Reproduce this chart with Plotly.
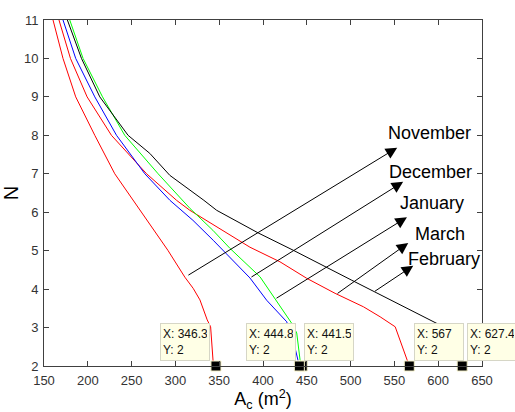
import plotly.graph_objects as go

# Collector area A_c (m^2) versus number of units N, one curve per month
nov_x = [160.3, 171.7, 186.2, 208.0, 230.8, 251.7, 291.4, 310.8, 320.3, 328.0, 336.3, 340.2, 343.2, 346.3]
nov_y = [11, 10, 9, 8, 7, 6.31, 5.01, 4.31, 4.02, 3.72, 3.20, 3.02, 2.07, 2]

dec_x = [171.7, 186.2, 208.0, 232.8, 265.1, 293.7, 320.0, 343.2, 385.1, 404.2, 427.1, 436.6, 441.5]
dec_y = [11, 10, 9, 8, 7, 6.31, 5.79, 5.27, 4.29, 3.71, 3.15, 2.47, 2]

jan_x = [179.4, 194.6, 216.8, 242.2, 280.3, 308.2, 316.6, 342.8, 362.3, 396.6, 413.7, 432.8, 438.5, 442.3, 444.8]
jan_y = [11, 10, 9, 8, 7, 6.31, 6.10, 5.53, 5.06, 4.32, 3.76, 3.11, 2.86, 2.16, 2]

mar_x = [167.1, 180.2, 199.2, 227.0, 267.1, 301.3, 316.5, 385.1, 419.4, 450.0, 482.3, 514.7, 533.7, 550.9, 567.0]
mar_y = [11, 10, 9, 8, 7, 6.31, 6.05, 5.09, 4.71, 4.28, 3.89, 3.54, 3.28, 3.02, 2]

feb_x = [176.7, 192.8, 213.7, 246.0, 270.8, 293.6, 332.5, 347.1, 394.6, 434.6, 501.4, 594.7, 607.7, 627.4]
feb_y = [11, 10, 9, 8, 7.53, 6.96, 6.31, 6.05, 5.46, 5.01, 4.23, 3.15, 3.0, 2]

# Data-tip readouts at N = 2
tip_x = [346.3, 444.8, 441.5, 567.0, 627.4]
tip_y = [2, 2, 2, 2, 2]
tip_labels = ["346.3", "444.8", "441.5", "567", "627.4"]

# Month labels and their arrows (head / tail in data units)
months = ["November", "December", "January", "March", "February"]
label_x = [589.7, 591.2, 593.4, 602.1, 606.6]
label_y = [8.06, 7.04, 6.24, 5.44, 4.79]
head_x = [553.2, 560.0, 564.3, 565.8, 571.5]
head_y = [7.68, 6.79, 5.87, 5.20, 4.61]
tail_x = [313.1, 385.1, 413.7, 483.4, 526.1]
tail_y = [4.34, 4.29, 3.74, 3.86, 3.92]

x_ticks = [150, 200, 250, 300, 350, 400, 450, 500, 550, 600, 650]
y_ticks = [2, 3, 4, 5, 6, 7, 8, 9, 10, 11]

fig = go.Figure()

curves = [
    (nov_x, nov_y, "#ff0000"),
    (mar_x, mar_y, "#ff0000"),
    (dec_x, dec_y, "#0000ff"),
    (jan_x, jan_y, "#00ff00"),
    (feb_x, feb_y, "#000000"),
]
for cx, cy, col in curves:
    fig.add_trace(go.Scatter(x=cx, y=cy, mode="lines",
                             line=dict(color=col, width=1),
                             showlegend=False, hoverinfo="skip"))

fig.add_trace(go.Scatter(x=tip_x, y=tip_y, mode="markers",
                         marker=dict(symbol="square", size=10, color="black",
                                     line=dict(color="#f4f0c8", width=1)),
                         cliponaxis=False, showlegend=False, hoverinfo="skip"))

annotations = []
for m, lx, ly, hx, hy, tx, ty in zip(months, label_x, label_y, head_x, head_y, tail_x, tail_y):
    annotations.append(dict(x=hx, y=hy, ax=tx, ay=ty, xref="x", yref="y",
                            axref="x", ayref="y", text="", showarrow=True,
                            arrowhead=2, arrowsize=2.3, arrowwidth=1,
                            arrowcolor="black", standoff=0, startstandoff=0))
    annotations.append(dict(x=lx, y=ly, xref="x", yref="y", text=m,
                            showarrow=False, xanchor="center", yanchor="middle",
                            font=dict(family="Arial, Liberation Sans", size=18, color="black")))

# Data-tip boxes: which side of the marker each box sits on
tip_side = ["right", "right", "left", "left", "left"]
for tx, ty, lab, side in zip(tip_x, tip_y, tip_labels, tip_side):
    annotations.append(dict(x=tx, y=ty, xref="x", yref="y",
                            text="X: " + lab + "<br>Y: 2", showarrow=False,
                            xanchor=side, yanchor="bottom",
                            xshift=-6 if side == "right" else 5, yshift=5,
                            align="left", width=44, height=32, borderpad=2,
                            bgcolor="#ffffe6", bordercolor="#d6d6c6", borderwidth=1,
                            font=dict(family="Arial, Liberation Sans", size=12, color="#111111")))

axis_common = dict(showline=True, linecolor="#404040", linewidth=1, mirror="ticks",
                   ticks="inside", ticklen=5, tickcolor="#404040", showgrid=False,
                   zeroline=False, automargin=False,
                   tickfont=dict(family="Arial, Liberation Sans", size=13, color="#333333"))

fig.update_layout(
    width=515, height=412,
    margin=dict(l=44, r=33, t=20, b=46),
    paper_bgcolor="white", plot_bgcolor="white",
    annotations=annotations,
    xaxis=dict(range=[150, 650], tickvals=x_ticks, ticktext=[str(v) for v in x_ticks],
               ticklabelstandoff=2,
               title=dict(text="A<sub>c</sub> (m<sup>2</sup>)", standoff=7,
                          font=dict(family="Arial, Liberation Sans", size=18, color="black")),
               **axis_common),
    yaxis=dict(range=[2, 11], tickvals=y_ticks, ticktext=[str(v) for v in y_ticks],
               ticklabelstandoff=2,
               title=dict(text="N", standoff=4,
                          font=dict(family="Arial, Liberation Sans", size=20, color="black")),
               **axis_common),
)

fig.write_html("out.html")
